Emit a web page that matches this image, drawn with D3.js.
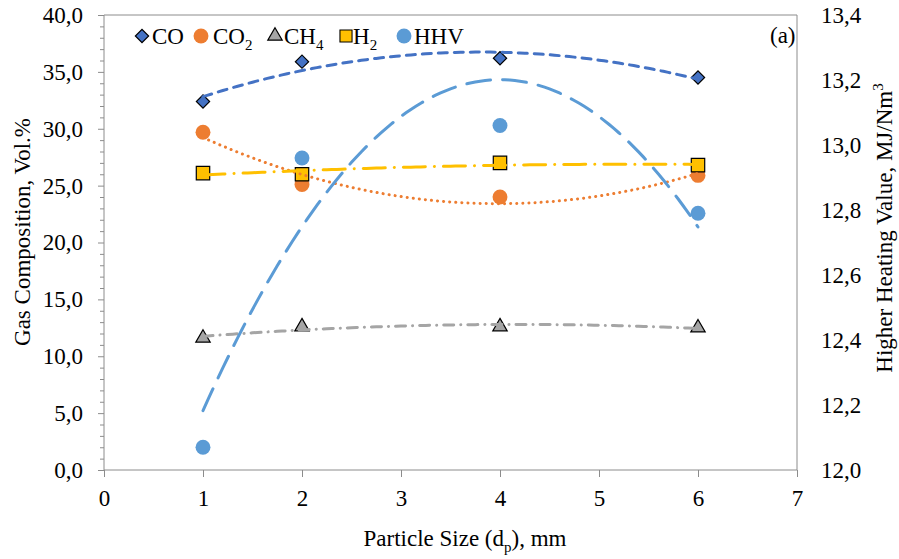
<!DOCTYPE html>
<html>
<head>
<meta charset="utf-8">
<script src="https://cdn.jsdelivr.net/npm/d3@7"></script>
<style>
  body { margin: 0; background: #fff; }
  svg text { font-family: "Liberation Serif", "Times New Roman", serif; fill: #000; }
</style>
</head>
<body>
<script>
// particle size, mm
let sizes = [1, 2, 4, 6];
// gas composition, vol.%
let coVals = [32.4, 35.9, 36.2, 34.5];
let co2Vals = [29.7, 25.1, 24.0, 25.9];
let ch4Vals = [11.6, 12.6, 12.6, 12.5];
let h2Vals = [26.1, 26.0, 27.0, 26.8];
// higher heating value, MJ/Nm3
let hhvVals = [12.07, 12.96, 13.06, 12.79];

let xTicks = [0, 1, 2, 3, 4, 5, 6, 7];
let leftTicks = [0, 5, 10, 15, 20, 25, 30, 35, 40];
let rightTicks = [12.0, 12.2, 12.4, 12.6, 12.8, 13.0, 13.2, 13.4];

let W = 899, H = 559;
let pLeft = 104, pRight = 797, pTop = 15, pBottom = 470;
let axisColor = '#8c8c8c';
let fs = 23;

let svg = d3.select('body').append('svg')
  .attr('width', W)
  .attr('height', H);

let x = d3.scaleLinear().domain([0, 7]).range([pLeft, pRight]);
let yL = d3.scaleLinear().domain([0, 40]).range([pBottom, pTop]);
let yR = d3.scaleLinear().domain([12.0, 13.4]).range([pBottom, pTop]);

let comma = function (f) {
  return function (d) { return d3.format(f)(d).replace('.', ','); };
};

// frame top line
svg.append('line')
  .attr('x1', pLeft).attr('x2', pRight)
  .attr('y1', pTop).attr('y2', pTop)
  .attr('stroke', axisColor).attr('stroke-width', 1);

// left axis, with minor ticks
let minor = d3.range(0, 41, 1).filter(d => d % 5 != 0);
svg.append('g')
  .attr('transform', 'translate(' + pLeft + ',0)')
  .call(d3.axisLeft(yL).tickValues(minor).tickSize(4).tickFormat(''))
  .call(g => g.select('.domain').remove())
  .call(g => g.selectAll('line').attr('stroke', axisColor));

let gl = svg.append('g')
  .attr('transform', 'translate(' + pLeft + ',0)')
  .call(d3.axisLeft(yL).tickValues(leftTicks).tickSize(6).tickPadding(15).tickFormat(comma('.1f')));
gl.select('.domain').attr('stroke', axisColor).attr('d', 'M0,' + pTop + 'V' + pBottom);
gl.selectAll('line').attr('stroke', axisColor);
gl.attr('font-family', null).attr('font-size', fs);

// right axis, no tick marks
let gr = svg.append('g')
  .attr('transform', 'translate(' + pRight + ',0)')
  .call(d3.axisRight(yR).tickValues(rightTicks).tickSize(0).tickPadding(24).tickFormat(comma('.1f')));
gr.select('.domain').attr('stroke', axisColor).attr('d', 'M0,' + pTop + 'V' + pBottom);
gr.attr('font-family', null).attr('font-size', fs);

// bottom axis
let gb = svg.append('g')
  .attr('transform', 'translate(0,' + pBottom + ')')
  .call(d3.axisBottom(x).tickValues(xTicks).tickSize(7).tickPadding(13).tickFormat(d3.format('d')));
gb.select('.domain').attr('stroke', axisColor).attr('d', 'M' + pLeft + ',0H' + pRight);
gb.selectAll('line').attr('stroke', axisColor);
gb.attr('font-family', null).attr('font-size', fs);

// least squares 2nd order polynomial, like the spreadsheet trendline
function polyFit(xs, ys) {
  let s = [0, 0, 0, 0, 0], t = [0, 0, 0];
  xs.forEach(function (xv, i) {
    for (let k = 0; k < 5; k++) s[k] += Math.pow(xv, k);
    for (let k = 0; k < 3; k++) t[k] += Math.pow(xv, k) * ys[i];
  });
  let A = [[s[0], s[1], s[2], t[0]], [s[1], s[2], s[3], t[1]], [s[2], s[3], s[4], t[2]]];
  for (let i = 0; i < 3; i++) {
    for (let j = i + 1; j < 3; j++) {
      let f = A[j][i] / A[i][i];
      for (let k = i; k < 4; k++) A[j][k] -= f * A[i][k];
    }
  }
  let c = [0, 0, 0];
  for (let i = 2; i >= 0; i--) {
    let v = A[i][3];
    for (let k = i + 1; k < 3; k++) v -= A[i][k] * c[k];
    c[i] = v / A[i][i];
  }
  return function (xv) { return c[0] + c[1] * xv + c[2] * xv * xv; };
}

let series = [
  { name: 'CO', vals: coVals, y: yL, color: '#4472C4', dash: '9,7', width: 3, shape: 'diamond' },
  { name: 'CO2', vals: co2Vals, y: yL, color: '#ED7D31', dash: '0.1,6', width: 3, shape: 'circle' },
  { name: 'CH4', vals: ch4Vals, y: yL, color: '#A5A5A5', dash: '10,7,0.1,7', width: 3, shape: 'triangle' },
  { name: 'H2', vals: h2Vals, y: yL, color: '#FFC000', dash: '22,9,0.1,9', width: 3, shape: 'square' },
  { name: 'HHV', vals: hhvVals, y: yR, color: '#5B9BD5', dash: '24,12', width: 3, shape: 'circle' }
];

function symbolFor(s) {
  if (s.shape == 'diamond') return d3.symbol().type(d3.symbolSquare).size(88)();
  if (s.shape == 'circle') return d3.symbol().type(d3.symbolCircle).size(175)();
  if (s.shape == 'triangle') return d3.symbol().type(d3.symbolTriangle).size(90)();
  return d3.symbol().type(d3.symbolSquare).size(180)();
}
function markerAttrs(sel, s) {
  sel.attr('d', symbolFor(s))
    .attr('fill', s.color)
    .attr('stroke', s.shape == 'circle' ? 'none' : '#000')
    .attr('stroke-width', 1.2);
}
function rot(s) { return s.shape == 'diamond' ? ' rotate(45)' : ''; }

// markers
let drawOrder = [4, 1, 0, 2, 3];
drawOrder.forEach(function (idx) {
  let s = series[idx];
  svg.append('g').selectAll('path')
    .data(sizes)
    .enter()
    .append('path')
    .call(markerAttrs, s)
    .attr('transform', function (d, i) {
      return 'translate(' + x(d) + ',' + s.y(s.vals[i]) + ')' + rot(s);
    });
});

// trendlines
series.forEach(function (s) {
  let f = polyFit(sizes, s.vals);
  let pts = d3.range(1, 6.001, 0.05);
  let line = d3.line()
    .x(function (d) { return x(d); })
    .y(function (d) { return s.y(f(d)); })
    .curve(d3.curveLinear);
  svg.append('path')
    .attr('fill', 'none')
    .attr('stroke', s.color)
    .attr('stroke-width', s.width)
    .attr('stroke-dasharray', s.dash)
    .attr('stroke-linecap', 'round')
    .attr('d', line(pts));
});

// legend
let legendItems = [
  { s: series[0], mx: 142, tx: 152, label: 'CO', sub: '' },
  { s: series[1], mx: 201, tx: 213, label: 'CO', sub: '2' },
  { s: series[2], mx: 275, tx: 284, label: 'CH', sub: '4' },
  { s: series[3], mx: 346, tx: 353, label: 'H', sub: '2' },
  { s: series[4], mx: 404, tx: 414, label: 'HHV', sub: '' }
];
let legY = 36;
legendItems.forEach(function (it) {
  svg.append('path')
    .call(markerAttrs, it.s)
    .attr('transform', 'translate(' + it.mx + ',' + legY + ')' + rot(it.s) + (it.s.shape == 'square' ? ' scale(0.9)' : ''));
  let t = svg.append('text')
    .attr('x', it.tx)
    .attr('y', 44)
    .attr('font-size', fs);
  t.append('tspan').text(it.label);
  if (it.sub) t.append('tspan').attr('dy', 6).attr('font-size', 15).text(it.sub);
});

// panel label
svg.append('text')
  .attr('x', 770).attr('y', 43)
  .attr('font-size', fs)
  .text('(a)');

// axis titles
let xt = svg.append('text')
  .attr('x', 465).attr('y', 546)
  .attr('text-anchor', 'middle')
  .attr('font-size', fs);
xt.append('tspan').text('Particle Size (d');
xt.append('tspan').attr('dy', 6).attr('font-size', 15).text('p');
xt.append('tspan').attr('dy', -6).text('), mm');

svg.append('text')
  .attr('transform', 'translate(30,232) rotate(-90)')
  .attr('text-anchor', 'middle')
  .attr('font-size', fs)
  .text('Gas Composition, Vol.%');

let rt = svg.append('text')
  .attr('transform', 'translate(892,228) rotate(-90)')
  .attr('text-anchor', 'middle')
  .attr('font-size', fs);
rt.append('tspan').text('Higher Heating Value, MJ/Nm');
rt.append('tspan').attr('dy', -9).attr('font-size', 15).text('3');
</script>
</body>
</html>
